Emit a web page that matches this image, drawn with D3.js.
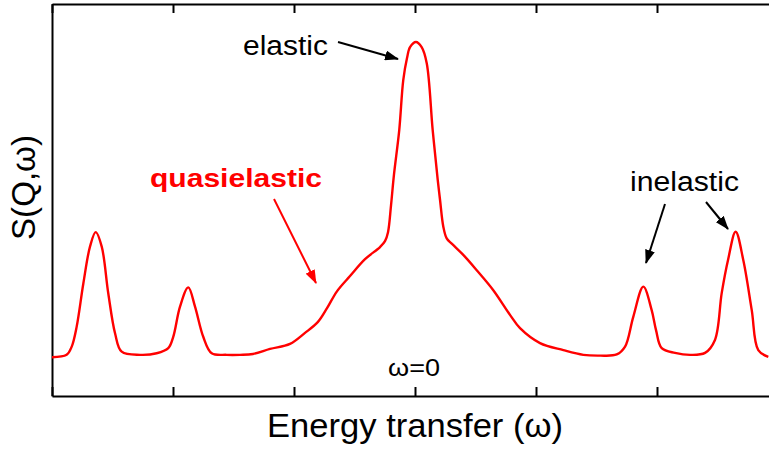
<!DOCTYPE html>
<html>
<head>
<meta charset="utf-8">
<script src="https://cdn.jsdelivr.net/npm/d3@7"></script>
<style>
  html, body { margin: 0; padding: 0; background: #fff; }
  svg { display: block; }
  text { font-family: "Liberation Sans", Arial, sans-serif; }
</style>
</head>
<body>
<svg id="chart" width="769" height="449"></svg>
<script>
// Energy transfer (units of the tick spacing), omega = 0 at the elastic line
const omega = [
  -3.000, -2.879, -2.837, -2.796, -2.741, -2.686, -2.639, -2.589, -2.535, -2.479,
  -2.424, -2.273, -2.135, -2.039, -1.998, -1.942, -1.874, -1.818, -1.750, -1.680,
  -1.556, -1.446, -1.339, -1.198, -1.033, -0.909, -0.802, -0.727, -0.645, -0.537,
  -0.413, -0.289, -0.248, -0.223, -0.198, -0.174, -0.130, -0.097, -0.066, -0.041,
   0.008,  0.055,  0.097,  0.146,  0.188,  0.207,  0.234,  0.262,  0.306,  0.399,
   0.510,  0.647,  0.785,  0.868,  1.033,  1.226,  1.391,  1.529,  1.667,  1.736,
   1.804,  1.887,  1.956,  1.992,  2.039,  2.149,  2.273,  2.397,  2.479,  2.535,
   2.587,  2.650,  2.713,  2.783,  2.837,  2.920
];
// Scattering function S(Q,omega), arbitrary units
const intensity = [
   9.9, 10.5, 12.6, 17.7, 28.7, 38.1, 41.8, 38.1, 26.2, 16.0,
  11.3, 10.5, 10.9, 12.2, 15.1, 22.8, 27.7, 22.8, 15.1, 10.9,
  10.5, 10.5, 10.7, 12.0, 13.3, 16.1, 18.9, 22.4, 26.7, 30.6,
  34.9, 38.0, 39.5, 41.8, 48.7, 56.4, 67.9, 80.6, 86.2, 89.0,
  90.3, 89.0, 84.9, 67.9, 55.1, 50.0, 43.2, 40.2, 38.8, 36.0,
  32.1, 27.0, 20.7, 17.3, 13.5, 11.7, 10.5, 10.3, 10.6, 12.6,
  20.2, 27.9, 21.9, 16.8, 12.2, 11.0, 10.5, 11.0, 14.3, 26.3,
  34.7, 41.9, 34.7, 21.9, 11.7, 10.0
];
const xTicks = [-3, -2, -1, 0, 1, 2, 3];

const svg = d3.select("#chart");
const x = d3.scaleLinear().domain([-3, 3]).range([52, 778]);
const y = d3.scaleLinear().domain([0, 100]).range([396, 4]);

// Arrowhead markers
const defs = svg.append("defs");
[["arrowBlack", "#000"], ["arrowRed", "#ff0000"]].forEach(([id, col]) => {
  defs.append("marker")
    .attr("id", id)
    .attr("viewBox", "0 0 14 10")
    .attr("refX", 13).attr("refY", 5)
    .attr("markerWidth", 14).attr("markerHeight", 10)
    .attr("markerUnits", "userSpaceOnUse")
    .attr("orient", "auto")
    .append("path").attr("d", "M0,0 L14,5 L0,10 Z").attr("fill", col);
});

// Frame: bottom, top and left axes with inward ticks and no labels
const axisStyle = g => {
  g.selectAll("path.domain").attr("stroke", "#000").attr("stroke-width", 2);
  g.selectAll(".tick line").attr("stroke", "#000").attr("stroke-width", 2);
  g.selectAll(".tick text").remove();
};
svg.append("g").attr("transform", "translate(0,396)")
  .call(d3.axisBottom(x).tickValues(xTicks).tickSizeInner(-9).tickSizeOuter(0).tickFormat(""))
  .call(axisStyle);
svg.append("g").attr("transform", "translate(0,4)")
  .call(d3.axisTop(x).tickValues(xTicks).tickSizeInner(-9).tickSizeOuter(0).tickFormat(""))
  .call(axisStyle);
svg.append("g").attr("transform", "translate(52,0)")
  .call(d3.axisLeft(y).tickValues([]).tickSizeOuter(0))
  .call(axisStyle);

// Spectrum
const line = d3.line()
  .x((d, i) => x(omega[i]))
  .y(d => y(d))
  .curve(d3.curveCatmullRom.alpha(0.5));
svg.append("path")
  .datum(intensity)
  .attr("d", line)
  .attr("fill", "none")
  .attr("stroke", "#ff0000")
  .attr("stroke-width", 2.4)
  .attr("stroke-linejoin", "round");

// Axis titles
svg.append("text")
  .attr("x", 267).attr("y", 437)
  .attr("font-size", 34).attr("textLength", 296).attr("lengthAdjust", "spacingAndGlyphs")
  .text("Energy transfer (ω)");
svg.append("text")
  .attr("transform", "translate(35,240) rotate(-90)")
  .attr("font-size", 33).attr("textLength", 105).attr("lengthAdjust", "spacingAndGlyphs")
  .text("S(Q,ω)");

// Annotations
svg.append("text")
  .attr("x", 243).attr("y", 55)
  .attr("font-size", 27).attr("textLength", 85).attr("lengthAdjust", "spacingAndGlyphs")
  .text("elastic");
svg.append("text")
  .attr("x", 150).attr("y", 187)
  .attr("font-size", 26).attr("font-weight", "bold").attr("fill", "#ff0000")
  .attr("textLength", 172).attr("lengthAdjust", "spacingAndGlyphs")
  .text("quasielastic");
svg.append("text")
  .attr("x", 630).attr("y", 191)
  .attr("font-size", 27).attr("textLength", 109).attr("lengthAdjust", "spacingAndGlyphs")
  .text("inelastic");
svg.append("text")
  .attr("x", 388).attr("y", 376)
  .attr("font-size", 24).attr("textLength", 52).attr("lengthAdjust", "spacingAndGlyphs")
  .text("ω=0");

const arrow = (x1, y1, x2, y2, col, marker) =>
  svg.append("line")
    .attr("x1", x1).attr("y1", y1).attr("x2", x2).attr("y2", y2)
    .attr("stroke", col).attr("stroke-width", 2)
    .attr("marker-end", `url(#${marker})`);
arrow(338, 42, 398, 59, "#000", "arrowBlack");
arrow(274, 199, 316, 283, "#ff0000", "arrowRed");
arrow(665, 204, 646, 263, "#000", "arrowBlack");
arrow(706, 202, 728, 229, "#000", "arrowBlack");
</script>
</body>
</html>
